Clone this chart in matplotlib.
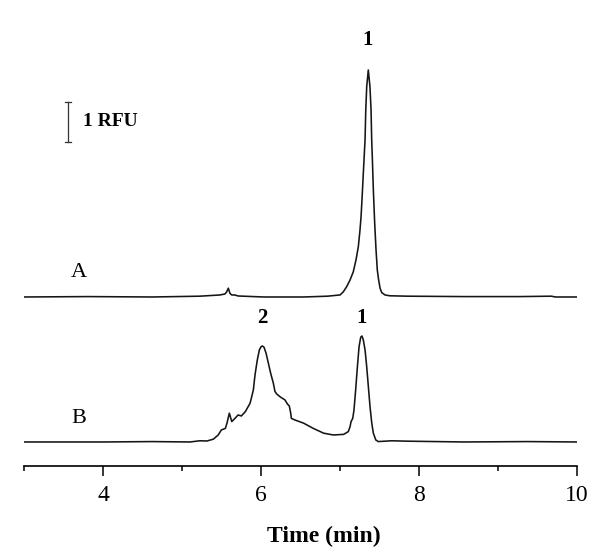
import numpy as np
import matplotlib
matplotlib.use("Agg")
import matplotlib.pyplot as plt
from matplotlib.ticker import MultipleLocator

plt.rcParams['font.family'] = ['Liberation Serif', 'DejaVu Serif']

# trace A (time in min, signal in RFU above its own baseline)
time_a = [3.0, 3.81, 4.62, 5.225, 5.478, 5.544, 5.566, 5.586, 5.607, 5.63,
          5.67, 5.71, 6.034, 6.54, 6.843, 6.944, 7.0, 7.042, 7.085, 7.127,
          7.168, 7.202, 7.232, 7.253, 7.266, 7.278, 7.295, 7.308, 7.317,
          7.326, 7.338, 7.358, 7.379, 7.393, 7.401, 7.41, 7.422, 7.439, 7.456,
          7.472, 7.489, 7.507, 7.528, 7.57, 7.632, 7.855, 8.563, 9.27, 9.675,
          9.726, 10.0]
sig_a = [0.0, 0.01, 0.0, 0.02, 0.05, 0.075, 0.13, 0.22, 0.09, 0.05,
         0.05, 0.025, 0.0, 0.0, 0.02, 0.04, 0.05, 0.13, 0.26, 0.425,
         0.63, 0.925, 1.26, 1.675, 2.0, 2.425, 3.09, 3.59, 3.925,
         4.675, 5.26, 5.675, 5.26, 4.675, 3.925, 3.425, 2.675, 1.84, 1.175,
         0.675, 0.425, 0.22, 0.11, 0.05, 0.03, 0.02, 0.01, 0.01, 0.02,
         0.0, 0.0]

# trace B
time_b = [3.0, 4.01, 4.62, 5.102, 5.225, 5.316, 5.397, 5.458, 5.498, 5.549,
          5.569, 5.599, 5.63, 5.67, 5.71, 5.751, 5.802, 5.862, 5.903, 5.924,
          5.953, 5.979, 6.0, 6.017, 6.038, 6.064, 6.093, 6.122, 6.156, 6.177,
          6.199, 6.241, 6.304, 6.334, 6.358, 6.376, 6.384, 6.429, 6.54, 6.661,
          6.793, 6.914, 7.046, 7.105, 7.127, 7.14, 7.161, 7.177, 7.198, 7.22,
          7.241, 7.262, 7.278, 7.295, 7.317, 7.338, 7.359, 7.38, 7.402, 7.422,
          7.453, 7.485, 7.652, 7.855, 8.563, 9.372, 10.0]
sig_b = [0.0, 0.0, 0.01, 0.0, 0.03, 0.025, 0.07, 0.175, 0.3, 0.34,
         0.47, 0.72, 0.51, 0.59, 0.675, 0.65, 0.76, 0.97, 1.3, 1.675,
         2.05, 2.3, 2.38, 2.40, 2.37, 2.22, 1.97, 1.72, 1.47, 1.26,
         1.2, 1.13, 1.05, 0.95, 0.9, 0.72, 0.59, 0.55, 0.47, 0.34,
         0.22, 0.175, 0.19, 0.26, 0.38, 0.51, 0.59, 0.8, 1.3, 1.88,
         2.38, 2.62, 2.65, 2.55, 2.3, 1.88, 1.38, 0.88, 0.47, 0.22,
         0.05, 0.01, 0.03, 0.02, 0.0, 0.01, 0.0]

offset_a = 3.625
peak_labels = ["1", "2", "1"]
peak_times = [7.354, 6.02, 7.275]
peak_heights = [10.05, 3.1, 3.1]

fig = plt.figure(figsize=(6, 5.55), dpi=100)
ax = fig.add_axes([0.04, 0.1604, 0.9217, 0.8396])

ax.plot(time_a, np.array(sig_a) + offset_a, color='#151515', lw=1.15)
ax.plot(time_b, sig_b, color='#151515', lw=1.15)

for lab, t, h in zip(peak_labels, peak_times, peak_heights):
    ax.text(t, h, lab, ha='center', va='center', fontsize=15, fontweight='bold')

ax.text(3.696, 4.225, "A", ha='center', va='center', fontsize=16)
ax.text(3.696, 0.575, "B", ha='center', va='center', fontsize=16)

# scale bar 1 RFU
ax.plot([3.557, 3.557], [7.5, 8.5], color='#333333', lw=0.9)
ax.plot([3.517, 3.597], [7.5, 7.5], color='#333333', lw=0.9)
ax.plot([3.517, 3.597], [8.5, 8.5], color='#333333', lw=0.9)
ax.text(3.747, 8.0, "1 RFU", ha='left', va='center', fontsize=14, fontweight='bold')

ax.set_xlim(3, 10)
ax.set_ylim(-0.6, 11.05)
for s in ['left', 'top', 'right']:
    ax.spines[s].set_visible(False)
ax.spines['bottom'].set_linewidth(1.2)
ax.set_yticks([])
ax.xaxis.set_major_locator(MultipleLocator(2))
ax.xaxis.set_minor_locator(MultipleLocator(1))
ax.tick_params(axis='x', which='major', length=7.5, width=1.1, labelsize=17, pad=6)
ax.tick_params(axis='x', which='minor', length=3.5, width=1.1)
ax.set_xlabel("Time (min)", fontsize=17, fontweight='bold')
ax.xaxis.label.set_va('center')
ax.xaxis.set_label_coords(0.543, -0.152)

fig.savefig("out.png", dpi=100)
